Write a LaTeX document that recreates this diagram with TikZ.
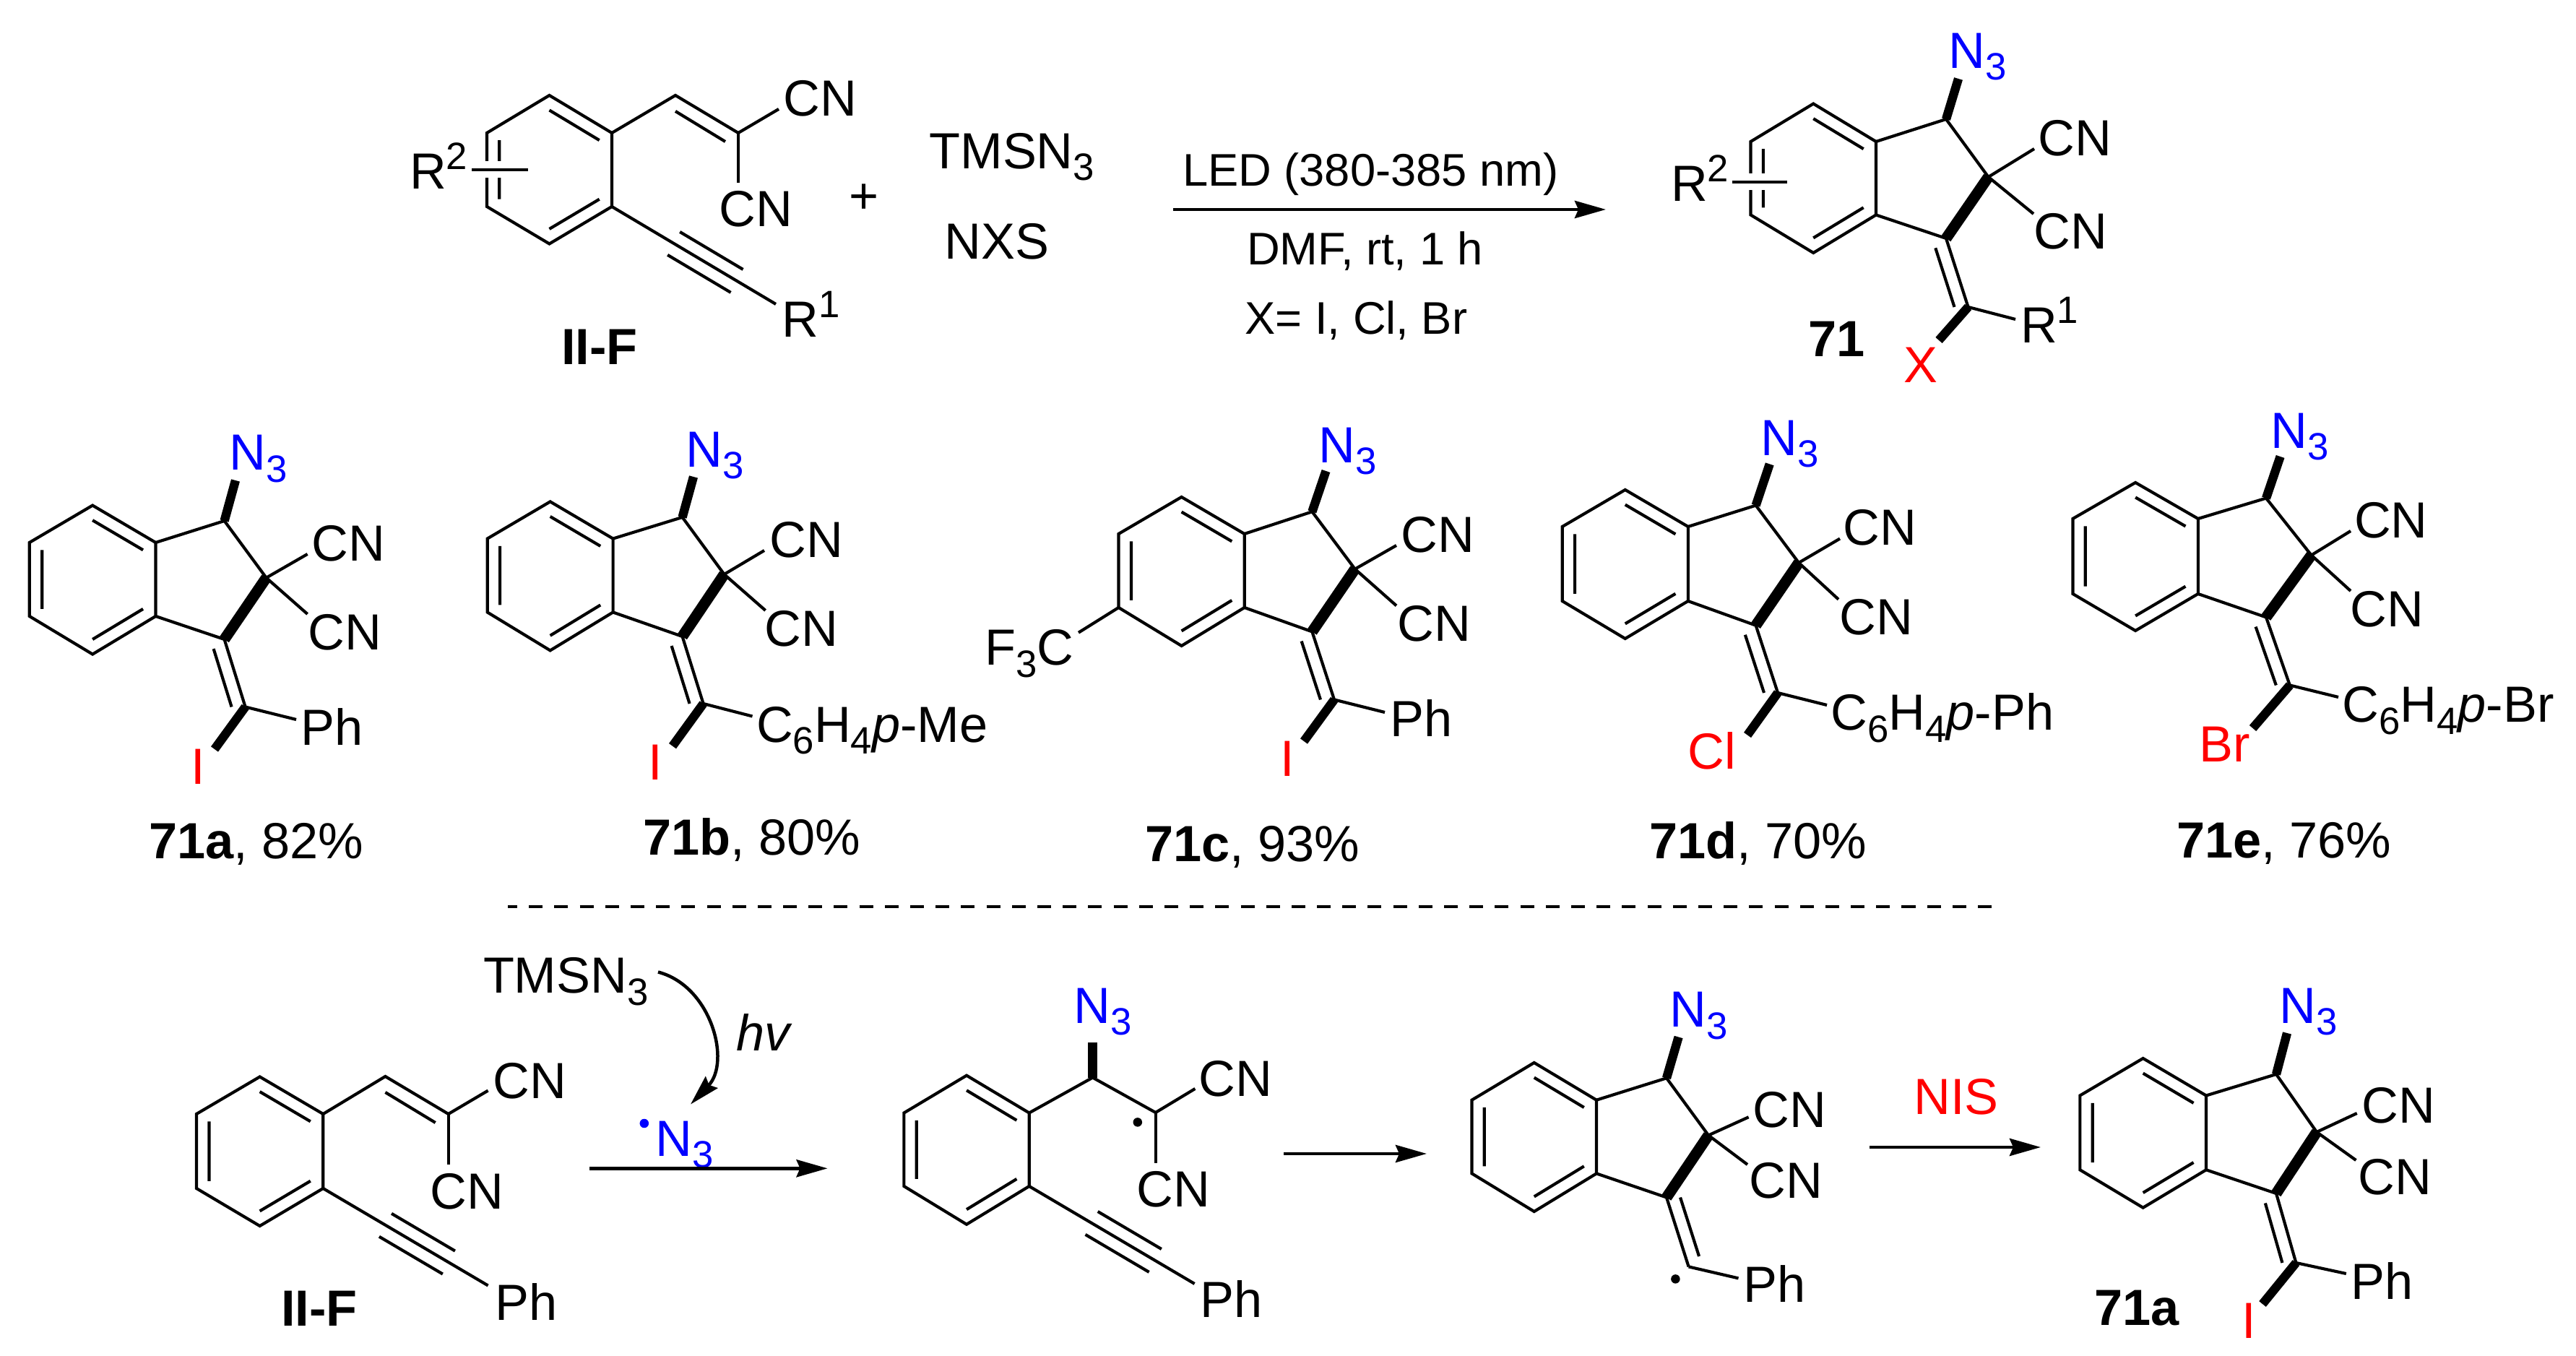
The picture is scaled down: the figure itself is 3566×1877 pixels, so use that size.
\documentclass[tikz,border=0pt]{standalone}
\usepackage{fontspec}
\setmainfont{Liberation Sans}
\usetikzlibrary{calc,arrows.meta}
\newcommand{\subs}[1]{\raisebox{-.16cm}{\fontsize{15}{15}\selectfont #1}}
\newcommand{\sups}[1]{\raisebox{.27cm}{\fontsize{15}{15}\selectfont #1}}
\tikzset{
  x=.01cm,y=-.01cm,
  bond/.style={line width=1.18pt},
  boldbond/.style={line width=3.5pt},
  ringbold/.style={line width=4.3pt},
  subst/.style={line width=1.28pt,preaction={draw=white,line width=.23cm}},
  rxn/.style={line width=1.35pt,-{Stealth[length=.43cm,width=.24cm,inset=.05cm]}},
  curly/.style={line width=1.28pt,-{Stealth[length=.42cm,width=.23cm,inset=.05cm]}},
  chem/.style={anchor=base west,inner sep=0pt,outer sep=0pt,font=\fontsize{20}{24}\selectfont},
  cond/.style={chem,font=\fontsize{18}{22}\selectfont},
  azide/.style={chem,text=blue},
  halo/.style={chem,text=red},
  radical/.style={circle,fill=black,inner sep=0pt,minimum size=.125cm},
}
\newcommand{\hexring}[7]{
  \coordinate (#1t) at ({(#2+#3)/2},#4);
  \coordinate (#1ul) at (#2,#5);
  \coordinate (#1ll) at (#2,#6);
  \coordinate (#1b) at ({(#2+#3)/2},#7);
  \coordinate (#1lr) at (#3,#6);
  \coordinate (#1ur) at (#3,#5);
  \coordinate (#1c) at ($(#1t)!.5!(#1b)$);
  \draw[bond] (#1t) -- (#1ul) -- (#1ll) -- (#1b) -- (#1lr) -- (#1ur) -- cycle;
  \draw[bond] ($(#1t)!.2!(#1c)$) -- ($(#1ur)!.2!(#1c)$)
              ($(#1ul)!.2!(#1c)$) -- ($(#1ll)!.2!(#1c)$)
              ($(#1b)!.2!(#1c)$) -- ($(#1lr)!.2!(#1c)$);
}
\newcommand{\indene}[5]{
  \coordinate (#1ca) at (#2);
  \coordinate (#1cb) at (#3);
  \coordinate (#1cc) at (#4);
  \coordinate (#1cx) at (#5);
  \draw[bond] (#1ur) -- (#1ca) -- (#1cb);
  \draw[bond] (#1lr) -- (#1cc) -- (#1cx);
  \draw[ringbold] (#1cb) -- (#1cc);
}
\newcommand{\exoinner}[4]{
  \draw[bond] ([xshift=#2cm]$(#1cc)!#3!(#1cx)$) -- ([xshift=#2cm]$(#1cc)!#4!(#1cx)$);
}
\newcommand{\bondto}[4]{
  \coordinate (#3) at (#4);
  \draw[#1] (#2) -- (#3);
}
\newcommand{\vinyl}[3]{
  \coordinate (#1ch) at (#2);
  \coordinate (#1cv) at (#3);
  \draw[bond] (#1ur) -- (#1ch) -- (#1cv);
  \draw[bond] ([yshift=-.22cm]#1ch) -- ([xshift=-.18cm,yshift=-.12cm]#1cv);
}
\newcommand{\alkyne}[2]{
  \coordinate (#1ce) at (#2);
  \draw[bond] (#1lr) -- (#1ce);
  \draw[bond] ([yshift=.21cm]$(#1lr)!.415!(#1ce)$) -- ([yshift=.21cm]$(#1lr)!.80!(#1ce)$)
              ([yshift=-.21cm]$(#1lr)!.34!(#1ce)$) -- ([yshift=-.21cm]$(#1lr)!.725!(#1ce)$);
}
\begin{document}
\begin{tikzpicture}
  \useasboundingbox (0,0) rectangle (3566,1877);

  \hexring{s}{674}{847}{132}{184}{286}{337.5}
  \vinyl{s}{935,132}{1022,184}
  \alkyne{s}{1074,421}
  \bondto{bond}{scv}{sn1}{1078,151}
  \bondto{bond}{scv}{sn2}{1022,253}
  \coordinate (sra) at (653,235);
  \coordinate (srb) at (731,235);
  \draw[subst] (sra) -- (srb);
  \node[chem] (scn1) at (1084.5,161) {CN};
  \node[chem] (scn2) at (995.5,314) {CN};
  \node[chem] (sr2) at (567,262) {R\sups{2}};
  \node[chem] (sr1) at (1082.5,467) {R\sups{1}};
  \node[chem] (slabel) at (777,505) {\textbf{II-F}};
  \node[chem,anchor=center] (plus) at (1196,275) {+};
  \node[chem] (tms) at (1286.5,234) {TMSN\subs{3}};
  \node[chem] (nxs) at (1307.5,359) {NXS};
  \coordinate (aa) at (1624,290);
  \coordinate (ab) at (2223,290);
  \draw[rxn] (aa) -- (ab);
  \node[cond] (led) at (1637,258) {LED (380-385 nm)};
  \node[cond] (dmf) at (1726,367) {DMF, rt, 1 h};
  \node[cond] (xeq) at (1723.5,463) {X= I, Cl, Br};

  \hexring{m}{2423.5}{2597}{143.6}{196}{297.5}{350}
  \indene{m}{2694,165}{2752.5,245}{2694,330}{2724.5,425}
  \exoinner{m}{-.19}{.14}{1}
  \bondto{boldbond}{mca}{mn}{2711,109}
  \bondto{bond}{mcb}{mn1}{2816,206}
  \bondto{bond}{mcb}{mn2}{2815,296}
  \bondto{bond}{mcx}{mr}{2790,442}
  \bondto{boldbond}{mcx}{mh}{2684,471}
  \coordinate (mra) at (2398,252);
  \coordinate (mrb) at (2474,252);
  \draw[subst] (mra) -- (mrb);
  \node[azide] (mazide) at (2697.6,95) {N\subs{3}};
  \node[chem] (mcn1) at (2821.5,216) {CN};
  \node[chem] (mcn2) at (2815.5,345) {CN};
  \node[chem] (mr1) at (2797,475) {R\sups{1}};
  \node[chem] (mr2) at (2313,279) {R\sups{2}};
  \node[halo] (mx) at (2635,530) {X};
  \node[chem] (mlabel) at (2503,494) {\textbf{71}};

  \hexring{a}{40.8}{215.5}{699.6}{751}{853}{905.6}
  \indene{a}{310.6,721}{368.6,799.8}{310.6,885}{339.6,978.5}
  \exoinner{a}{-.19}{.14}{1}
  \bondto{boldbond}{aca}{an}{326,665}
  \bondto{bond}{acb}{an1}{425.6,767}
  \bondto{bond}{acb}{an2}{425.6,850}
  \bondto{bond}{acx}{ap}{410,996}
  \bondto{boldbond}{acx}{ah}{297,1037}
  \node[azide] (aazide) at (317.6,651) {N\subs{3}};
  \node[chem] (acn1) at (431.5,777) {CN};
  \node[chem] (acn2) at (426.5,900) {CN};
  \node[chem] (aph) at (416.6,1032) {Ph};
  \node[halo] (ai) at (264,1086) {I};
  \node[chem] (alabel) at (206,1189) {\textbf{71a}, 82\%};

  \hexring{b}{674.7}{848.6}{694.4}{745.6}{847.5}{900.4}
  \indene{b}{944.6,716}{1002.5,795}{944.6,881}{973.6,974}
  \exoinner{b}{-.19}{.14}{1}
  \bondto{boldbond}{bca}{bn}{960,660}
  \bondto{bond}{bcb}{bn1}{1058,762}
  \bondto{bond}{bcb}{bn2}{1059.6,845}
  \bondto{bond}{bcx}{bp}{1041.5,991.5}
  \bondto{boldbond}{bcx}{bh}{931,1032.7}
  \node[azide] (bazide) at (949.6,646.5) {N\subs{3}};
  \node[chem] (bcn1) at (1065.5,771.6) {CN};
  \node[chem] (bcn2) at (1058.5,895) {CN};
  \node[chem] (bar) at (1047,1027.5) {C\subs{6}H\subs{4}\textit{p}-Me};
  \node[halo] (bi) at (897.5,1079.5) {I};
  \node[chem] (blabel) at (890,1184) {\textbf{71b}, 80\%};

  \hexring{c}{1548.5}{1722.7}{688}{739}{841}{894}
  \indene{c}{1816.4,708.3}{1875.7,787.7}{1816.4,874.4}{1847,968.5}
  \exoinner{c}{-.19}{.14}{1}
  \bondto{boldbond}{cca}{cn}{1835.5,652}
  \bondto{bond}{ccb}{cn1}{1933,755}
  \bondto{bond}{ccb}{cn2}{1933,838.4}
  \bondto{bond}{ccx}{cp}{1917,986}
  \bondto{boldbond}{ccx}{ch}{1805,1026}
  \bondto{bond}{cll}{cf}{1493,875.7}
  \node[azide] (cazide) at (1825.6,640.5) {N\subs{3}};
  \node[chem] (ccn1) at (1939.2,765) {CN};
  \node[chem] (ccn2) at (1934.5,888) {CN};
  \node[chem] (cph) at (1924.6,1019.7) {Ph};
  \node[chem] (cfc) at (1363.5,921) {F\subs{3}C};
  \node[halo] (ci) at (1772,1075) {I};
  \node[chem] (clabel) at (1585,1193) {\textbf{71c}, 93\%};

  \hexring{d}{2162.7}{2336.8}{678}{729}{832}{884}
  \indene{d}{2430.6,699.6}{2490,779}{2430.6,865.7}{2461,959}
  \exoinner{d}{-.19}{.14}{1}
  \bondto{boldbond}{dca}{dn}{2449.7,642.4}
  \bondto{bond}{dcb}{dn1}{2547,745.6}
  \bondto{bond}{dcb}{dn2}{2545,829.7}
  \bondto{bond}{dcx}{dp}{2529,976}
  \bondto{boldbond}{dcx}{dh}{2419,1017.5}
  \node[azide] (dazide) at (2437.6,630.5) {N\subs{3}};
  \node[chem] (dcn1) at (2551.5,755) {CN};
  \node[chem] (dcn2) at (2546.5,879) {CN};
  \node[chem] (dar) at (2534.5,1011) {C\subs{6}H\subs{4}\textit{p}-Ph};
  \node[halo] (dcl) at (2336.2,1065) {Cl};
  \node[chem] (dlabel) at (2283,1189) {\textbf{71d}, 70\%};

  \hexring{e}{2869.4}{3042.8}{668}{718}{822}{873}
  \indene{e}{3137,689.6}{3199.6,768.5}{3137,854.4}{3169.8,948.5}
  \exoinner{e}{-.19}{.14}{1}
  \bondto{boldbond}{eca}{en}{3156.6,632}
  \bondto{bond}{ecb}{en1}{3254,735}
  \bondto{bond}{ecb}{en2}{3254,818}
  \bondto{bond}{ecx}{ep}{3237,965}
  \bondto{boldbond}{ecx}{eh}{3118.5,1008}
  \node[azide] (eazide) at (3143.6,620.5) {N\subs{3}};
  \node[chem] (ecn1) at (3259,744.7) {CN};
  \node[chem] (ecn2) at (3253.3,868) {CN};
  \node[chem] (ear) at (3242.5,1000) {C\subs{6}H\subs{4}\textit{p}-Br};
  \node[halo] (ebr) at (3044.6,1055) {Br};
  \node[chem] (elabel) at (3013,1188) {\textbf{71e}, 76\%};

  \coordinate (dla) at (703,1255);
  \coordinate (dlb) at (2757,1255);
  \draw[line width=1.3pt,dash pattern=on .19cm off .1617cm,dash phase=.06cm] (dla) -- (dlb);

  \hexring{f}{272}{447.3}{1490.5}{1542}{1645}{1697}
  \vinyl{f}{533.4,1490}{620.7,1542}
  \alkyne{f}{675.6,1779.5}
  \bondto{bond}{fcv}{fn1}{675.6,1509.6}
  \bondto{bond}{fcv}{fn2}{620.7,1612}
  \node[chem] (fcn1) at (682.9,1520) {CN};
  \node[chem] (fcn2) at (595.5,1673) {CN};
  \node[chem] (fph) at (685.6,1827) {Ph};
  \node[chem] (flabel) at (389,1835) {\textbf{II-F}};
  \node[chem] (ftms) at (669,1375) {TMSN\subs{3}};
  \coordinate (ca) at (911,1345.5);
  \coordinate (cb) at (956,1528.6);
  \draw[curly] (ca) .. controls (985,1365) and (1012,1470) .. (cb);
  \node[chem] (hv) at (1019,1454.4) {\textit{hv}};
  \node[radical,fill=blue] (fdot) at (891.8,1555) {};
  \node[azide] (fazide) at (907.6,1600) {N\subs{3}};
  \coordinate (ra) at (816,1617.3);
  \coordinate (rb) at (1145.6,1617.3);
  \draw[rxn] (ra) -- (rb);

  \hexring{g}{1251.4}{1424.7}{1488.7}{1540.5}{1642}{1694.8}
  \coordinate (gch) at (1512.6,1491.6);
  \coordinate (gcv) at (1599.7,1540);
  \draw[bond] (gur) -- (gch) -- (gcv);
  \alkyne{g}{1653.6,1777}
  \bondto{boldbond}{gch}{gn}{1512.6,1443}
  \bondto{bond}{gcv}{gn1}{1654.4,1507}
  \bondto{bond}{gcv}{gn2}{1599.7,1609.5}
  \node[radical] (gdot) at (1574.8,1553.4) {};
  \node[azide] (gazide) at (1486.6,1416) {N\subs{3}};
  \node[chem] (gcn1) at (1659.2,1517.5) {CN};
  \node[chem] (gcn2) at (1573.5,1670.6) {CN};
  \node[chem] (gph) at (1661.6,1823.7) {Ph};
  \coordinate (sa) at (1777,1597);
  \coordinate (sb) at (1975,1597);
  \draw[rxn] (sa) -- (sb);

  \hexring{k}{2037.5}{2210}{1471}{1522.7}{1624.4}{1677}
  \indene{k}{2307,1492.3}{2365,1571.5}{2307,1657.5}{2337.6,1753.4}
  \exoinner{k}{.19}{0}{.85}
  \bondto{boldbond}{kca}{kn}{2323.6,1435.5}
  \bondto{bond}{kcb}{kn1}{2420.6,1546.3}
  \bondto{bond}{kcb}{kn2}{2419,1612}
  \bondto{bond}{kcx}{kp}{2406.5,1769.4}
  \node[radical] (kdot) at (2319.4,1770.4) {};
  \node[azide] (kazide) at (2311.6,1422) {N\subs{3}};
  \node[chem] (kcn1) at (2426.2,1560) {CN};
  \node[chem] (kcn2) at (2421.2,1658) {CN};
  \node[chem] (kph) at (2413.6,1802.4) {Ph};
  \coordinate (na) at (2588,1588);
  \coordinate (nb) at (2825,1588);
  \draw[rxn] (na) -- (nb);
  \node[halo] (nis) at (2649.6,1542) {NIS};

  \hexring{q}{2879.3}{3054}{1465}{1516.5}{1619.3}{1671.7}
  \indene{q}{3151,1487}{3207,1567}{3151,1652}{3178.4,1748}
  \exoinner{q}{-.19}{.14}{1}
  \bondto{boldbond}{qca}{qn}{3166,1430}
  \bondto{bond}{qcb}{qn1}{3262.7,1541}
  \bondto{bond}{qcb}{qn2}{3261.4,1606}
  \bondto{bond}{qcx}{qp}{3247.8,1763}
  \bondto{boldbond}{qcx}{qh}{3132,1805}
  \node[azide] (qazide) at (3155.4,1416.6) {N\subs{3}};
  \node[chem] (qcn1) at (3269.5,1554.5) {CN};
  \node[chem] (qcn2) at (3264.5,1653) {CN};
  \node[chem] (qph) at (3254.6,1798) {Ph};
  \node[halo] (qi) at (3103,1852) {I};
  \node[chem] (qlabel) at (2899,1834) {\textbf{71a}};
\end{tikzpicture}
\end{document}
